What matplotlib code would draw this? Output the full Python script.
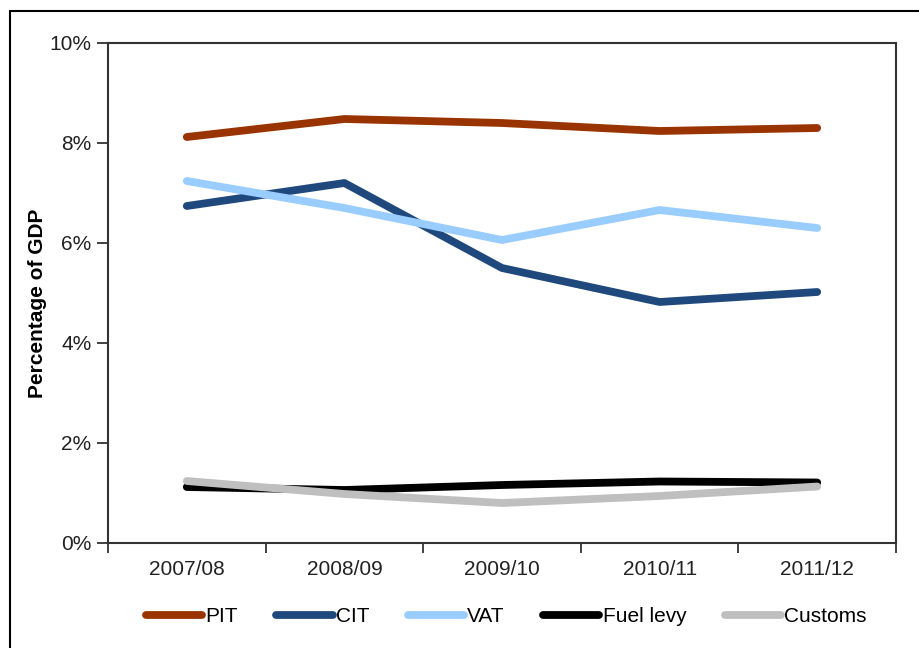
import numpy as np
import matplotlib.pyplot as plt
from matplotlib.patches import Rectangle
from matplotlib.ticker import FuncFormatter

plt.rcParams['font.family'] = ['Liberation Sans', 'DejaVu Sans']

# data (percentage of GDP)
years = ['2007/08', '2008/09', '2009/10', '2010/11', '2011/12']
pit = [8.12, 8.48, 8.40, 8.24, 8.30]
cit = [6.74, 7.20, 5.50, 4.82, 5.02]
vat = [7.24, 6.70, 6.06, 6.66, 6.30]
fuel = [1.12, 1.06, 1.16, 1.23, 1.21]
customs = [1.24, 0.98, 0.80, 0.94, 1.13]

names = ['PIT', 'CIT', 'VAT', 'Fuel levy', 'Customs']
colors = ['#993300', '#1F497D', '#99CCFF', '#000000', '#BFBFBF']

fig = plt.figure(figsize=(9.19, 6.48), dpi=100)
ax = fig.add_axes([108/919, 1-543/648, (896-108)/919, (543-43)/648])

x = np.arange(len(years))
for vals, name, c in zip([pit, cit, vat, fuel, customs], names, colors):
    ax.plot(x, vals, color=c, lw=5.6, solid_capstyle='round', label=name)

ax.set_xlim(-0.5, len(years)-0.5)
ax.set_ylim(0, 10)
ax.set_yticks(np.arange(0, 11, 2))
ax.yaxis.set_major_formatter(FuncFormatter(lambda v, p: '%d%%' % v))
ax.set_xticks(x)
ax.set_xticklabels(years)
ax.set_xticks(np.arange(-0.5, len(years), 1), minor=True)
ax.tick_params(axis='x', which='major', length=0, pad=12, labelsize=15, colors='#222222')
ax.tick_params(axis='x', which='minor', length=7, width=1.3, direction='out', color='#333333')
ax.tick_params(axis='y', length=8, width=1.3, direction='out', pad=4, labelsize=15,
               color='#333333', labelcolor='#222222')
for s in ax.spines.values():
    s.set_linewidth(1.5)
    s.set_color('#333333')

ax.set_ylabel('Percentage of GDP', fontsize=15, fontweight='bold')
ax.yaxis.set_label_coords(-0.077, 0.48)

leg = fig.legend(loc='center', bbox_to_anchor=(0.551, 1-617/648), ncol=5, frameon=False,
                 fontsize=15, handlelength=2.7, handletextpad=0.15, columnspacing=1.85)
for h in leg.get_lines():
    h.set_solid_capstyle('round')

# outer border
fig.add_artist(Rectangle((10/919, -0.1), 1.0, 1-11/648+0.1, transform=fig.transFigure,
                         fill=False, lw=1.5, color='black'))

plt.savefig('out.png', dpi=100)
